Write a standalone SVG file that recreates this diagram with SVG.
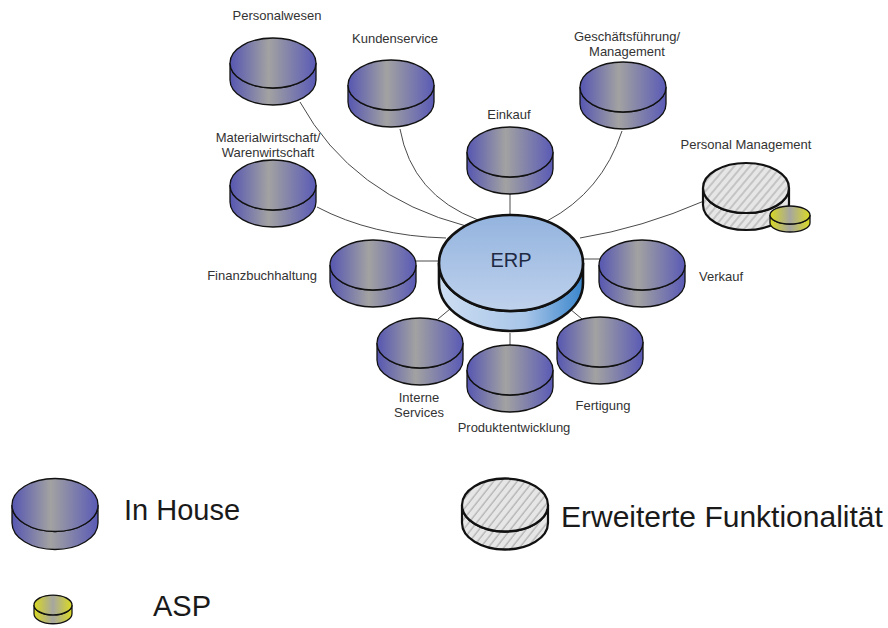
<svg xmlns="http://www.w3.org/2000/svg" xmlns:xlink="http://www.w3.org/1999/xlink" width="888" height="628" viewBox="0 0 888 628">
  <style>
    .lbl { font-family: "Liberation Sans", Arial, sans-serif; font-size: 13px; fill: #333333; text-anchor: middle; }
    .leg { font-family: "Liberation Sans", Arial, sans-serif; font-size: 29px; fill: #1a1a1a; }
    .conn { fill: none; stroke: #4a4a4a; stroke-width: 1; }
    .ih { stroke: #111; stroke-width: 1.3; }
  </style>
  <defs>
    <linearGradient id="gIH" x1="0" y1="0" x2="1" y2="0">
      <stop offset="0" stop-color="#5656b2"/>
      <stop offset="0.45" stop-color="#a2a2a2"/>
      <stop offset="1" stop-color="#5a5ab6"/>
    </linearGradient>
    <linearGradient id="gY" x1="0" y1="0" x2="1" y2="0">
      <stop offset="0" stop-color="#d8d820"/>
      <stop offset="0.5" stop-color="#a6a6a0"/>
      <stop offset="1" stop-color="#dada22"/>
    </linearGradient>
    <linearGradient id="gErpTop" x1="0" y1="0" x2="0" y2="1">
      <stop offset="0" stop-color="#93b3de"/>
      <stop offset="1" stop-color="#bfd2ed"/>
    </linearGradient>
    <linearGradient id="gErpSide" x1="0" y1="0" x2="1" y2="0">
      <stop offset="0" stop-color="#cddef2"/>
      <stop offset="0.6" stop-color="#a8c5e8"/>
      <stop offset="1" stop-color="#3a86cc"/>
    </linearGradient>
    <pattern id="hatch" patternUnits="userSpaceOnUse" width="6" height="6" patternTransform="rotate(40)">
      <rect width="6" height="6" fill="#e6e6e6"/>
      <line x1="1" y1="0" x2="1" y2="6" stroke="#a9a9a9" stroke-width="1.1"/>
    </pattern>
    <g id="diskIH">
      <path class="ih" fill="url(#gIH)" d="M-43,0 V17 A43,25 0 0 0 43,17 V0 A43,25 0 0 1 -43,0 Z"/>
      <ellipse class="ih" fill="url(#gIH)" cx="0" cy="0" rx="43" ry="25"/>
    </g>
    <g id="diskHatch">
      <path fill="url(#hatch)" stroke="#111" stroke-width="2.2" d="M-43,0 V17 A43,25 0 0 0 43,17 V0 A43,25 0 0 1 -43,0 Z"/>
      <ellipse fill="url(#hatch)" stroke="#111" stroke-width="2.2" cx="0" cy="0" rx="43" ry="25"/>
    </g>
    <g id="diskY">
      <path fill="url(#gY)" stroke="#111" stroke-width="1.3" d="M-20,0 V8 A20,9 0 0 0 20,8 V0 A20,9 0 0 1 -20,0 Z"/>
      <ellipse fill="url(#gY)" stroke="#111" stroke-width="1.3" cx="0" cy="0" rx="20" ry="9"/>
    </g>
  </defs>

  <rect width="888" height="628" fill="#ffffff"/>

  <g id="connectors">
    <path class="conn" d="M300,102 Q352,196 466,226"/>
    <path class="conn" d="M400,129 Q412,195 478,220"/>
    <path class="conn" d="M317,207 Q372,236 446,238"/>
    <path class="conn" d="M510,194 V215"/>
    <path class="conn" d="M622,131 Q602,192 547,221"/>
    <path class="conn" d="M704,201 Q642,228 580,238"/>
    <path class="conn" d="M416,261 H439"/>
    <path class="conn" d="M582,259 H600"/>
    <path class="conn" d="M438,319 L450,309"/>
    <path class="conn" d="M510,333 V345"/>
    <path class="conn" d="M570,309 L582,319"/>
  </g>

  <g id="personalwesen">
    <use xlink:href="#diskIH" href="#diskIH" x="273" y="63"/>
    <text class="lbl" x="277" y="20">Personalwesen</text>
  </g>
  <g id="kundenservice">
    <use xlink:href="#diskIH" href="#diskIH" x="391" y="85"/>
    <text class="lbl" x="395" y="43">Kundenservice</text>
  </g>
  <g id="geschaeftsfuehrung">
    <use xlink:href="#diskIH" href="#diskIH" x="623" y="87"/>
    <text class="lbl" x="627" y="41">Geschäftsführung/</text>
    <text class="lbl" x="627" y="56">Management</text>
  </g>
  <g id="einkauf">
    <use xlink:href="#diskIH" href="#diskIH" x="510" y="152"/>
    <text class="lbl" x="509" y="119">Einkauf</text>
  </g>
  <g id="materialwirtschaft">
    <use xlink:href="#diskIH" href="#diskIH" x="273" y="185"/>
    <text class="lbl" x="268" y="142">Materialwirtschaft/</text>
    <text class="lbl" x="268" y="157">Warenwirtschaft</text>
  </g>
  <g id="personal-management">
    <use xlink:href="#diskHatch" href="#diskHatch" x="746" y="188"/>
    <text class="lbl" x="746" y="149">Personal Management</text>
    <use xlink:href="#diskY" href="#diskY" x="790" y="215"/>
  </g>
  <g id="finanzbuchhaltung">
    <use xlink:href="#diskIH" href="#diskIH" x="373" y="265"/>
    <text class="lbl" x="317" y="280" style="text-anchor:end">Finanzbuchhaltung</text>
  </g>
  <g id="verkauf">
    <use xlink:href="#diskIH" href="#diskIH" x="642" y="265"/>
    <text class="lbl" x="721" y="281">Verkauf</text>
  </g>
  <g id="interne-services">
    <use xlink:href="#diskIH" href="#diskIH" x="420" y="343"/>
    <text class="lbl" x="419" y="402">Interne</text>
    <text class="lbl" x="419" y="417">Services</text>
  </g>
  <g id="produktentwicklung">
    <use xlink:href="#diskIH" href="#diskIH" x="510" y="370"/>
    <text class="lbl" x="514" y="432">Produktentwicklung</text>
  </g>
  <g id="fertigung">
    <use xlink:href="#diskIH" href="#diskIH" x="600" y="342"/>
    <text class="lbl" x="603" y="410">Fertigung</text>
  </g>

  <g id="erp">
    <path fill="url(#gErpSide)" stroke="#111" stroke-width="2.6" d="M439,263 V283 A72,48 0 0 0 583,283 V263 A72,48 0 0 1 439,263 Z"/>
    <ellipse fill="url(#gErpTop)" stroke="#111" stroke-width="2.6" cx="511" cy="263" rx="72" ry="48"/>
    <text x="511" y="267" style="font-family:'Liberation Sans',Arial,sans-serif;font-size:20px;fill:#1e2a44;text-anchor:middle">ERP</text>
  </g>

  <g id="legend-inhouse">
    <use xlink:href="#diskIH" href="#diskIH" transform="translate(55,505) scale(1,1.06)"/>
    <text class="leg" x="124" y="520">In House</text>
  </g>
  <g id="legend-erweitert">
    <use xlink:href="#diskHatch" href="#diskHatch" transform="translate(505,505) scale(1,1.06)"/>
    <text class="leg" x="561" y="527" style="font-size:30px">Erweiterte Funktionalität</text>
  </g>
  <g id="legend-asp">
    <use xlink:href="#diskY" href="#diskY" transform="translate(53,605) scale(0.95,1.1)"/>
    <text class="leg" x="153" y="616">ASP</text>
  </g>
</svg>
